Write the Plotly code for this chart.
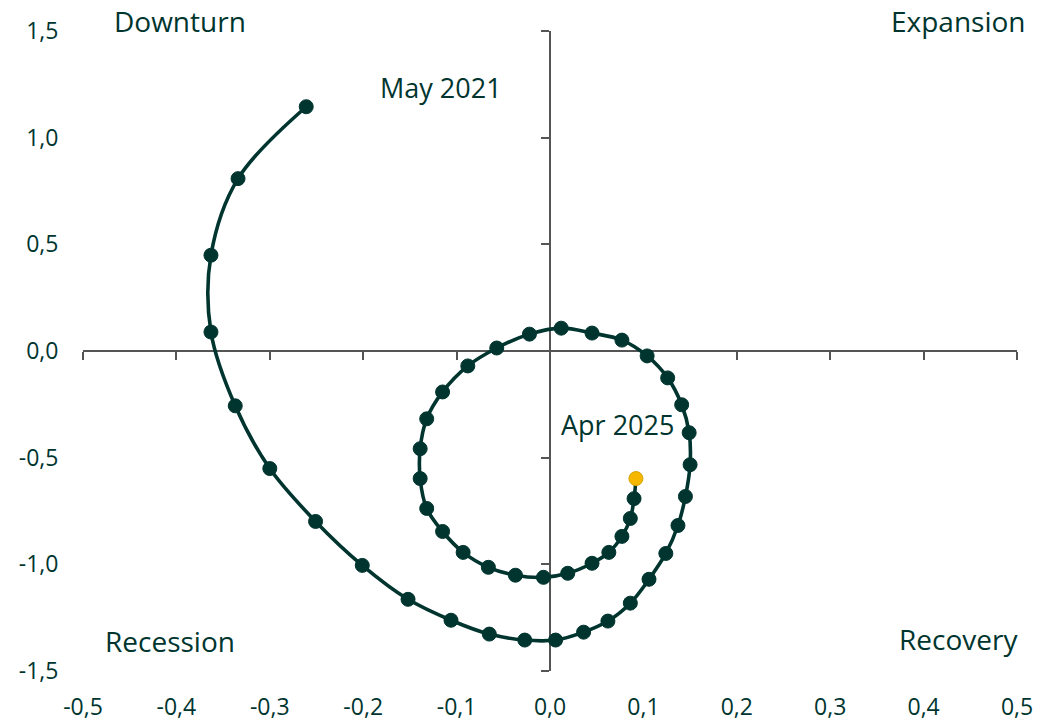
import plotly.graph_objects as go

# Data
x_vals = [-0.261, -0.334, -0.363, -0.363, -0.337, -0.300, -0.251, -0.201, -0.152, -0.106,
          -0.065, -0.027, 0.006, 0.036, 0.062, 0.086, 0.106, 0.124, 0.137, 0.145,
          0.150, 0.149, 0.141, 0.126, 0.104, 0.077, 0.045, 0.012, -0.022, -0.057,
          -0.088, -0.115, -0.132, -0.139, -0.139, -0.132, -0.115, -0.093, -0.066, -0.037,
          -0.007, 0.019, 0.045, 0.063, 0.077, 0.086, 0.090, 0.092]
y_vals = [1.145, 0.808, 0.449, 0.089, -0.257, -0.551, -0.799, -1.005, -1.164, -1.262,
          -1.327, -1.355, -1.355, -1.318, -1.266, -1.182, -1.070, -0.949, -0.818, -0.682,
          -0.533, -0.383, -0.252, -0.126, -0.023, 0.051, 0.084, 0.107, 0.079, 0.014,
          -0.070, -0.192, -0.318, -0.458, -0.598, -0.738, -0.846, -0.944, -1.014, -1.051,
          -1.061, -1.042, -0.995, -0.944, -0.869, -0.785, -0.692, -0.598]

x_ticks = [-0.5, -0.4, -0.3, -0.2, -0.1, 0.0, 0.1, 0.2, 0.3, 0.4, 0.5]
x_tick_labels = ["-0,5", "-0,4", "-0,3", "-0,2", "-0,1", "0,0", "0,1", "0,2", "0,3", "0,4", "0,5"]
y_ticks = [-1.5, -1.0, -0.5, 0.0, 0.5, 1.0, 1.5]
y_tick_labels = ["-1,5", "-1,0", "-0,5", "0,0", "0,5", "1,0", "1,5"]

first_label = "May 2021"
last_label = "Apr 2025"
quadrants = ["Downturn", "Expansion", "Recession", "Recovery"]

DARK = "#00352f"
YELLOW = "#f5b700"
AXIS = "#555555"
FONT = "Open Sans"

n = len(x_vals)
marker_colors = [DARK] * (n - 1) + [YELLOW]
marker_line_colors = [DARK] * (n - 1) + ["#d9a200"]

fig = go.Figure()
fig.add_trace(go.Scatter(
    x=x_vals, y=y_vals, mode="lines+markers",
    line=dict(color=DARK, width=3.6, shape="spline", smoothing=1.0),
    marker=dict(size=14, color=marker_colors, line=dict(color=marker_line_colors, width=1)),
    showlegend=False, hoverinfo="x+y",
))

common_tick_font = dict(family=FONT, size=23, color=DARK)

fig.update_layout(
    width=1041, height=721,
    margin=dict(l=83, r=24, t=31, b=50),
    paper_bgcolor="white", plot_bgcolor="white",
    font=dict(family=FONT, color=DARK),
    xaxis=dict(range=[-0.5, 0.5], tickvals=x_ticks, ticktext=x_tick_labels,
               showgrid=False, zeroline=False, showline=False, automargin=False,
               ticks="outside", ticklen=15, tickcolor="rgba(0,0,0,0)",
               tickfont=common_tick_font),
    yaxis=dict(range=[-1.5, 1.5], tickvals=y_ticks, ticktext=y_tick_labels,
               showgrid=False, zeroline=False, showline=False, automargin=False,
               ticks="outside", ticklen=19, tickcolor="rgba(0,0,0,0)",
               tickfont=common_tick_font),
    xaxis2=dict(range=[-0.5, 0.5], overlaying="x", anchor="free", position=0.5,
                tickvals=x_ticks, showticklabels=False, showgrid=False, zeroline=False,
                showline=True, linecolor=AXIS, linewidth=2, automargin=False,
                ticks="outside", ticklen=8, tickwidth=2, tickcolor=AXIS, layer="below traces"),
    yaxis2=dict(range=[-1.5, 1.5], overlaying="y", anchor="free", position=0.5, side="left",
                tickvals=y_ticks, showticklabels=False, showgrid=False, zeroline=False,
                showline=True, linecolor=AXIS, linewidth=2, automargin=False,
                ticks="outside", ticklen=8, tickwidth=2, tickcolor=AXIS, layer="below traces"),
)

fig.add_trace(go.Scatter(x=[], y=[], xaxis="x2", yaxis="y2", showlegend=False, hoverinfo="skip"))

qfont = dict(family=FONT, size=28, color=DARK)
fig.add_annotation(text=quadrants[0], xref="paper", yref="paper", x=0.104, y=1.016,
                   xanchor="center", yanchor="middle", showarrow=False, font=qfont)
fig.add_annotation(text=quadrants[1], xref="paper", yref="paper", x=1.012, y=1.016,
                   xanchor="right", yanchor="middle", showarrow=False, font=qfont)
fig.add_annotation(text=quadrants[2], xref="paper", yref="paper", x=0.093, y=0.047,
                   xanchor="center", yanchor="middle", showarrow=False, font=qfont)
fig.add_annotation(text=quadrants[3], xref="paper", yref="paper", x=1.003, y=0.05,
                   xanchor="right", yanchor="middle", showarrow=False, font=qfont)

lfont = dict(family=FONT, size=27, color=DARK)
fig.add_annotation(text=first_label, x=-0.117, y=1.234, xanchor="center", yanchor="middle",
                   showarrow=False, font=lfont)
fig.add_annotation(text=last_label, x=0.072, y=-0.346, xanchor="center", yanchor="middle",
                   showarrow=False, font=lfont)

# remove the default 8px page margin so the 1041x721 figure fills the window exactly
fig.write_html("out.html", config={"displayModeBar": False},
               post_script="document.body.style.margin='0';document.body.style.overflow='hidden';")
